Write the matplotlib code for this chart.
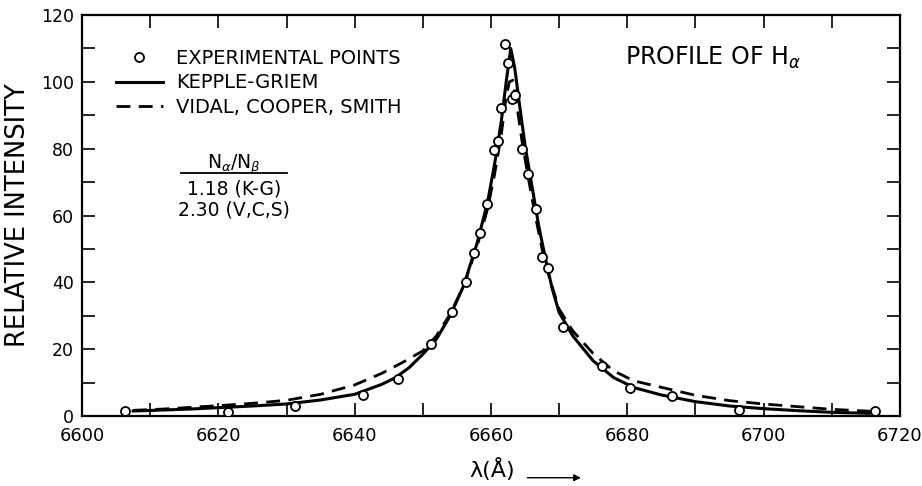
import matplotlib
matplotlib.use("Agg")
import matplotlib.pyplot as plt
from matplotlib.ticker import MultipleLocator

# experimental points (wavelength in A, relative intensity)
exp_x = [6606.3, 6621.4, 6631.2, 6641.2, 6646.4, 6651.2, 6654.3, 6656.3, 6657.5,
         6658.4, 6659.4, 6660.4, 6661.0, 6661.4, 6662.0, 6662.5, 6663.1, 6663.6,
         6664.5, 6665.5, 6666.6, 6667.5, 6668.4, 6670.5, 6676.3, 6680.4, 6686.5,
         6696.4, 6716.4]
exp_y = [1.4, 1.3, 3.1, 6.3, 11.0, 21.7, 31.2, 40.0, 48.8,
         54.8, 63.4, 79.6, 82.4, 92.1, 111.2, 105.8, 94.8, 96.0,
         79.9, 72.3, 62.1, 47.6, 44.4, 26.7, 14.9, 8.5, 5.9,
         1.8, 1.5]

# Kepple-Griem profile (solid)
kg_x = [6607.5, 6612, 6616, 6620, 6625, 6630, 6635, 6640, 6644, 6646, 6648, 6650,
        6652, 6654, 6656, 6658, 6659.5, 6660.5, 6661.5, 6662.3, 6662.9, 6663.5,
        6664.2, 6665, 6666, 6667, 6668, 6669, 6670, 6672, 6675, 6678, 6681, 6685,
        6690, 6695, 6700, 6705, 6710, 6715.5]
kg_y = [1.5, 1.8, 2.1, 2.5, 3.0, 3.6, 4.8, 6.5, 9.5, 11.5, 14.5, 18.5,
        23.0, 30.0, 39.0, 52.0, 64.0, 75.0, 88.0, 101.0, 110.0, 104.0,
        93.0, 81.0, 69.0, 57.0, 47.0, 38.0, 31.0, 24.0, 16.5, 11.5, 8.5, 6.3,
        4.3, 3.0, 2.2, 1.6, 1.1, 0.8]

# Vidal, Cooper, Smith profile (dashed)
vcs_x = [6607.5, 6612, 6616, 6620, 6625, 6630, 6635, 6640, 6644, 6647, 6650, 6652,
         6654, 6656, 6658, 6659.5, 6660.5, 6661.5, 6662.2, 6662.7, 6663.2, 6663.8,
         6664.5, 6665.5, 6666.5, 6667.5, 6668.5, 6670, 6672, 6675, 6678, 6681,
         6685, 6690, 6695, 6700, 6705, 6710, 6716]
vcs_y = [1.7, 2.1, 2.6, 3.1, 3.8, 4.7, 6.5, 9.3, 12.8, 16.0, 19.5, 24.0,
         30.5, 39.0, 51.0, 62.0, 72.0, 84.0, 95.0, 100.0, 100.5, 93.0,
         83.0, 71.0, 60.0, 50.0, 42.0, 32.0, 25.5, 18.7, 13.5, 10.5,
         8.6, 6.2, 4.6, 3.6, 2.8, 2.0, 1.4]

plt.rcParams['font.family'] = ['DejaVu Sans']

fig = plt.figure(figsize=(9.22, 4.86), dpi=100)
ax = fig.add_axes([0.089, 0.144, 0.887, 0.825])

ax.plot(kg_x, kg_y, color='black', lw=2.2, label='KEPPLE-GRIEM', zorder=2)
ax.plot(vcs_x, vcs_y, color='black', lw=2.0, ls=(0, (5, 3)),
        label='VIDAL, COOPER, SMITH', zorder=2)
ax.plot(exp_x, exp_y, ls='none', marker='o', ms=6.5, mfc='white', mec='black',
        mew=1.3, label='EXPERIMENTAL POINTS', zorder=3)

ax.set_xlim(6600, 6720)
ax.set_ylim(0, 120)
ax.xaxis.set_major_locator(MultipleLocator(20))
ax.xaxis.set_minor_locator(MultipleLocator(10))
ax.yaxis.set_major_locator(MultipleLocator(20))
ax.yaxis.set_minor_locator(MultipleLocator(10))
ax.tick_params(which='both', direction='in', top=True, right=True,
               length=9.5, width=1.2)
ax.tick_params(axis='x', pad=8, labelsize=13)
ax.tick_params(axis='y', pad=6, labelsize=12.5)
for s in ax.spines.values():
    s.set_linewidth(1.6)

handles, labels = ax.get_legend_handles_labels()
order = [2, 0, 1]
ax.legend([handles[i] for i in order], [labels[i] for i in order],
          frameon=False, loc='upper left', bbox_to_anchor=(0.02, 0.96),
          fontsize=14, handlelength=2.4, handletextpad=0.7, labelspacing=0.3)

# N_alpha / N_beta box
ax.text(0.186, 0.627, r'N$_\alpha$/N$_\beta$', transform=ax.transAxes,
        ha='center', va='center', fontsize=13.5)
ax.plot([0.121, 0.251], [0.605, 0.605], transform=ax.transAxes,
        color='black', lw=1.3)
ax.text(0.186, 0.567, '1.18 (K-G)', transform=ax.transAxes,
        ha='center', va='center', fontsize=13.5)
ax.text(0.186, 0.513, '2.30 (V,C,S)', transform=ax.transAxes,
        ha='center', va='center', fontsize=13.5)

ax.text(0.664, 0.893, r'PROFILE OF H$_\alpha$', transform=ax.transAxes,
        ha='left', va='center', fontsize=17)

ax.set_ylabel('RELATIVE INTENSITY', fontsize=18.5)
ax.yaxis.set_label_coords(-0.062, 0.5)

fig.text(0.534, 0.033, 'λ(Å)', ha='center', va='center', fontsize=16)
ax.annotate('', xy=(0.633, 0.017), xytext=(0.569, 0.017),
            xycoords='figure fraction', textcoords='figure fraction',
            arrowprops=dict(arrowstyle='-|>', color='black', lw=1.0,
                            mutation_scale=10))

fig.savefig('out.png', dpi=100)
